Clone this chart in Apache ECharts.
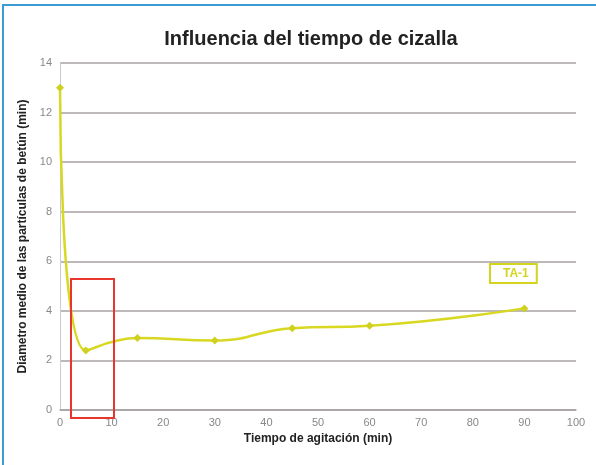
<!DOCTYPE html>
<html>
<head>
<meta charset="utf-8">
<script src="https://cdn.jsdelivr.net/npm/echarts@6/dist/echarts.min.js"></script>
<style>
  html, body { margin: 0; padding: 0; background: #fff; }
  #chart { width: 596px; height: 465px; }
</style>
</head>
<body>
<div id="chart"></div>
<script>
// datos
var tiempo = [0, 5, 15, 30, 45, 60, 90];
var diametro = [13, 2.4, 2.9, 2.8, 3.3, 3.4, 4.1];
var serieNombre = 'TA-1';

var chart = echarts.init(document.getElementById('chart'));
var option = {
    backgroundColor: '#fff',
    animation: false,
    title: {
        text: 'Influencia del tiempo de cizalla',
        left: 306,
        textAlign: 'center',
        top: 24,
        textStyle: {
            fontFamily: 'Liberation Sans Narrow, Liberation Sans, sans-serif',
            fontSize: 20,
            fontWeight: 'bold',
            color: '#222'
        }
    },
    legend: {
        data: [serieNombre],
        left: 490,
        top: 264,
        icon: 'none',
        itemWidth: 0,
        itemGap: 0,
        padding: [3, 8, 3, 8],
        borderColor: '#d4d41e',
        borderWidth: 2,
        textStyle: { color: '#d4d41e', fontWeight: 'bold', fontSize: 12 }
    },
    grid: { left: 60, right: 20, top: 63, bottom: 55 },
    xAxis: {
        type: 'value',
        min: 0, max: 100, interval: 10,
        name: 'Tiempo de agitación (min)',
        nameLocation: 'middle',
        nameGap: 21,
        nameTextStyle: { fontWeight: 'bold', fontSize: 12, color: '#222' },
        axisLine: { show: true, lineStyle: { color: '#a8a2a2', width: 1.5 } },
        axisTick: { show: false },
        axisLabel: { color: '#888', fontSize: 11, margin: 7 },
        splitLine: { show: false }
    },
    yAxis: {
        type: 'value',
        min: 0, max: 14, interval: 2,
        name: 'Diametro medio de las partículas de betún (min)',
        nameLocation: 'middle',
        nameGap: 26,
        nameTextStyle: { fontWeight: 'bold', fontSize: 12, color: '#222' },
        axisLine: { show: true, lineStyle: { color: '#ccc', width: 1 } },
        axisTick: { show: false },
        axisLabel: { color: '#888', fontSize: 11, margin: 8 },
        splitLine: { lineStyle: { color: '#a8a2a2', width: 1.5 } }
    },
    series: [{
        name: serieNombre,
        type: 'line',
        smooth: 0.5,
        data: tiempo.map(function (t, i) { return [t, diametro[i]]; }),
        symbol: 'diamond',
        symbolSize: 8,
        lineStyle: { color: '#d8d822', width: 2.5 },
        itemStyle: { color: '#d0d020' }
    }],
    graphic: [
        {
            type: 'rect',
            shape: { x: 3, y: 5, width: 620, height: 480 },
            style: { fill: 'none', stroke: '#3d9bd4', lineWidth: 2 },
            silent: true
        },
        {
            type: 'rect',
            shape: { x: 71, y: 279, width: 43, height: 139 },
            style: { fill: 'none', stroke: '#e8362c', lineWidth: 2 },
            z: 100,
            silent: true
        }
    ]
};
chart.setOption(option);
</script>
</body>
</html>
